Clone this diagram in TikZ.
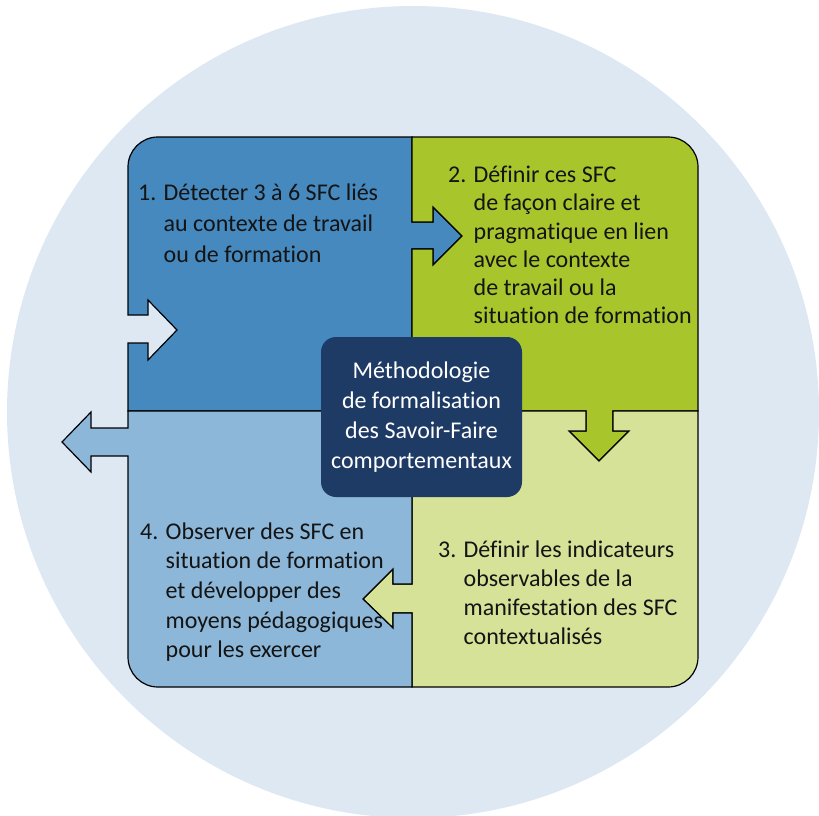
\documentclass[tikz,border=0pt]{standalone}
\usepackage{fontspec}
\setmainfont{Carlito}[Ligatures=NoCommon]
\definecolor{bgc}{HTML}{DDE8F2}
\definecolor{pone}{HTML}{4589BE}
\definecolor{ptwo}{HTML}{A8C62B}
\definecolor{pthree}{HTML}{D5E297}
\definecolor{pfour}{HTML}{8DB7D8}
\definecolor{navy}{HTML}{1E3B66}
\definecolor{ink}{HTML}{141414}
\tikzset{
  panel/.style={draw=black, line width=1.2pt, line join=miter},
  ptext/.style={anchor=west, inner sep=0pt, align=left, text=ink,
    font=\fontsize{24}{29}\selectfont},
  ctext/.style={inner sep=0pt, align=center, text=white,
    font=\fontsize{24}{30}\selectfont}
}
\begin{document}
\begin{tikzpicture}[x=1pt,y=-1pt]
\useasboundingbox (0,0) rectangle (819,816);
\fill[bgc] (413,412) circle[radius=406];
% panel 1
\path[panel, fill=pone]
  (128,315) -- (128,167) arc[start angle=180, end angle=270, radius=30]
  -- (412,137) -- (412,222) -- (433,222) -- (433,207) -- (462,236)
  -- (433,265) -- (433,249) -- (412,249) -- (412,411) -- (128,411)
  -- (128,343) -- (148,343) -- (148,360) -- (177,330) -- (148,300)
  -- (148,315) -- cycle;
% panel 2
\path[panel, fill=ptwo]
  (412,137) -- (668,137) arc[start angle=270, end angle=360, radius=30]
  -- (698,411) -- (613,411) -- (613,431) -- (629,431) -- (599,461)
  -- (569,431) -- (586,431) -- (586,411) -- (412,411) -- (412,249)
  -- (433,249) -- (433,265) -- (462,236) -- (433,207) -- (433,222)
  -- (412,222) -- cycle;
% panel 3
\path[panel, fill=pthree]
  (412,411) -- (586,411) -- (586,431) -- (569,431) -- (599,461)
  -- (629,431) -- (613,431) -- (613,411) -- (698,411) -- (698,657)
  arc[start angle=0, end angle=90, radius=30]
  -- (412,687) -- (412,613) -- (393,613) -- (393,628) -- (363,599)
  -- (393,569) -- (393,584) -- (412,584) -- cycle;
% panel 4
\path[panel, fill=pfour]
  (412,411) -- (412,584) -- (393,584) -- (393,569) -- (363,599)
  -- (393,628) -- (393,613) -- (412,613) -- (412,687) -- (158,687)
  arc[start angle=90, end angle=180, radius=30]
  -- (128,456) -- (91,456) -- (91,472) -- (62,442) -- (91,412)
  -- (91,428) -- (128,428) -- (128,411) -- cycle;
% centre
\fill[navy, rounded corners=15pt] (321,337) rectangle (522,497);
\node[ctext] (centre) at (421.5,417) {Méthodologie\\de formalisation\\des Savoir-Faire\\comportementaux};
% texts
\node[ptext, font=\fontsize{24}{31}\selectfont] (t1) at (138,223) {1. Détecter 3 à 6 SFC liés\\\hphantom{1. }au contexte de travail\\\hphantom{1. }ou de formation};
\node[ptext, font=\fontsize{24}{28.2}\selectfont] (t2) at (448,245) {2. Définir ces SFC\\\hphantom{2. }de façon claire et\\\hphantom{2. }pragmatique en lien\\\hphantom{2. }avec le contexte\\\hphantom{2. }de travail ou la\\\hphantom{2. }situation de formation};
\node[ptext] (t3) at (438,593) {3. Définir les indicateurs\\\hphantom{3. }observables de la\\\hphantom{3. }manifestation des SFC\\\hphantom{3. }contextualisés};
\node[ptext, font=\fontsize{24}{29.6}\selectfont] (t4) at (140,592) {4. Observer des SFC en\\\hphantom{4. }situation de formation\\\hphantom{4. }et développer des\\\hphantom{4. }moyens pédagogiques\\\hphantom{4. }pour les exercer};
\end{tikzpicture}
\end{document}
